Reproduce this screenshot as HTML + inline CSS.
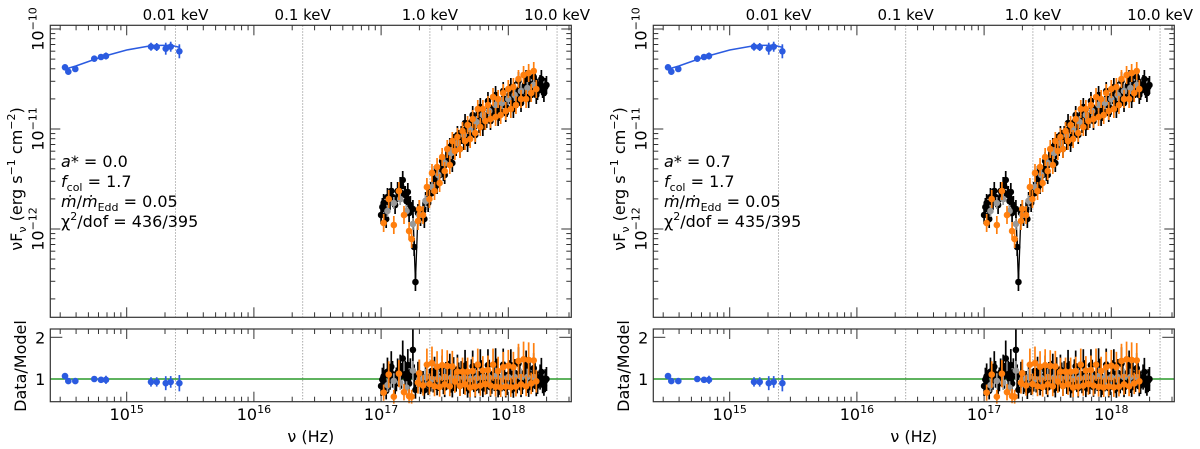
<!DOCTYPE html>
<html><head><meta charset="utf-8"><style>
html,body{margin:0;padding:0;background:#fff;}
svg{display:block;font-family:"DejaVu Sans","Liberation Sans",sans-serif;}
</style></head><body>
<svg id="chart" width="1200" height="449" viewBox="0 0 1200 449" xmlns="http://www.w3.org/2000/svg"></svg>
<script>
// ---- data (log10 nu [Hz], log10 nuFnu) ----
const optNu = [14.515,14.541,14.596,14.745,14.798,14.837,15.191,15.236,15.307,15.346,15.414];
const optF  = [-10.383,-10.427,-10.40,-10.297,-10.28,-10.27,-10.177,-10.18,-10.197,-10.177,-10.223];
const optErr = [0.015,0.015,0.015,0.015,0.02,0.035,0.04,0.04,0.06,0.05,0.07];
const optModelNu = [14.52,14.60,14.80,15.0,15.2,15.35,15.42];
const optModelF  = [-10.40,-10.37,-10.28,-10.21,-10.165,-10.163,-10.185];
const optRatio = [1.07,0.95,0.95,1.0,0.98,0.98,0.93,0.93,0.9,0.93,0.9];

const blkNu = [17.00,17.02,17.03,17.05,17.07,17.09,17.11,17.13,17.15,17.17,17.19,17.21,17.23,17.25,17.26,17.27,17.29,17.31,17.33,17.35,17.37,17.39,17.41,17.43,17.45,17.47,17.49,17.51,17.53,17.55,17.57,17.59,17.61,17.63,17.65,17.67,17.69,17.71,17.73,17.75,17.77,17.79,17.81,17.83,17.85,17.87,17.89,17.91,17.93,17.95,17.97,17.99,18.01,18.03,18.05,18.07,18.09,18.11,18.13,18.15,18.17,18.19,18.21,18.23,18.25,18.27,18.29];
const blkF = [-11.86,-11.74,-11.80,-11.68,-11.72,-11.68,-11.76,-11.62,-11.57,-11.51,-11.66,-11.63,-11.76,-11.80,-12.18,-12.53,-11.84,-11.88,-11.82,-11.72,-11.74,-11.62,-11.58,-11.50,-11.47,-11.40,-11.43,-11.30,-11.25,-11.28,-11.14,-11.18,-11.10,-11.06,-11.12,-11.00,-11.05,-10.93,-10.98,-10.90,-10.95,-10.84,-10.88,-10.90,-10.78,-10.86,-10.80,-10.72,-10.83,-10.76,-10.70,-10.79,-10.66,-10.73,-10.62,-10.70,-10.60,-10.68,-10.56,-10.64,-10.55,-10.60,-10.52,-10.62,-10.55,-10.60,-10.58];
const blk2Nu = [17.01,17.04,17.08,17.12,17.16,17.20,17.22,17.30,17.34,17.38,17.42,17.44,17.48,17.50,17.54,17.56,17.60,17.62,17.66,17.68,17.72,17.74,17.78,17.80,17.84,17.86,17.90,17.92,17.96,17.98,18.02,18.04,18.08,18.10,18.14,18.16,18.20,18.22,18.26,18.28,18.30];
const blk2F = [-11.78,-11.90,-11.62,-11.70,-11.64,-11.72,-11.84,-11.80,-11.90,-11.66,-11.46,-11.56,-11.32,-11.46,-11.18,-11.34,-11.06,-11.20,-10.94,-11.14,-10.86,-11.06,-10.78,-10.98,-10.72,-10.92,-10.66,-10.88,-10.62,-10.84,-10.58,-10.80,-10.52,-10.74,-10.50,-10.70,-10.48,-10.66,-10.50,-10.64,-10.56];
const orgNu = [17.02,17.06,17.10,17.14,17.18,17.22,17.24,17.29,17.30,17.33,17.36,17.38,17.40,17.42,17.44,17.46,17.48,17.50,17.52,17.54,17.56,17.58,17.60,17.62,17.64,17.66,17.68,17.70,17.72,17.74,17.76,17.78,17.80,17.82,17.84,17.86,17.88,17.90,17.92,17.94,17.96,17.98,18.00,18.02,18.04,18.06,18.08,18.10,18.12,18.14,18.16,18.18,18.20,18.22];
const orgF = [-11.94,-11.70,-11.96,-11.62,-11.86,-12.02,-12.10,-11.92,-11.80,-11.86,-11.58,-11.70,-11.44,-11.62,-11.38,-11.54,-11.28,-11.42,-11.20,-11.36,-11.12,-11.22,-11.08,-11.20,-11.02,-11.12,-10.96,-11.10,-10.90,-11.04,-10.80,-10.98,-10.80,-10.92,-10.76,-10.90,-10.68,-10.88,-10.70,-10.86,-10.64,-10.82,-10.60,-10.80,-10.58,-10.76,-10.50,-10.70,-10.46,-10.70,-10.44,-10.64,-10.42,-10.60];
const gryNu = [17.05,17.10,17.15,17.20,17.25,17.30,17.35,17.40,17.45,17.50,17.55,17.60,17.65,17.70,17.75,17.80,17.85,17.90,17.95,18.00,18.05,18.10,18.15,18.20];
const gryF = [-11.82,-11.74,-11.70,-11.82,-11.95,-11.86,-11.72,-11.58,-11.46,-11.34,-11.24,-11.14,-11.06,-11.00,-10.93,-10.86,-10.82,-10.76,-10.74,-10.70,-10.66,-10.62,-10.59,-10.56];
const xModelNu = [17.0,17.1,17.15,17.2,17.24,17.26,17.27,17.29,17.35,17.4,17.5,17.6,17.7,17.8,17.9,18.0,18.1,18.2,18.3];
const xModelF  = [-11.78,-11.72,-11.66,-11.72,-11.86,-12.2,-12.4,-11.88,-11.74,-11.58,-11.36,-11.15,-11.0,-10.88,-10.79,-10.72,-10.64,-10.58,-10.56];
const nuTicks = [15,16,17,18];
const fTicks = [-10,-11,-12];
const rTicks = [1,2];
const keVLabels = ["0.01 keV","0.1 keV","1.0 keV","10.0 keV"];
const keVValues = [0.01,0.1,1.0,10.0];
const panelSpin = ["0.0","0.7"];
const panelChi = ["436/395","435/395"];

const NS="http://www.w3.org/2000/svg";
const svg=document.getElementById('chart');
function mk(tag,attrs,parent){const e=document.createElementNS(NS,tag);for(const k in attrs)e.setAttribute(k,attrs[k]);(parent||svg).appendChild(e);return e;}
function interp(xs,ys,x){if(x<=xs[0])return ys[0];for(let i=1;i<xs.length;i++){if(x<=xs[i]){const t=(x-xs[i-1])/(xs[i]-xs[i-1]);return ys[i-1]+t*(ys[i]-ys[i-1]);}}return ys[ys.length-1];}

function panel(ox,idx){
  const L=50.3+ox,R=571.3+ox,T=25.3,B=317.3,RT=329,RB=401.7;
  const dec=127.2;
  const X=v=>126.7+ox+(v-15)*dec;
  const Y=v=>29-(v+10)*100;
  const RY=v=>379-(v-1)*41.7;
  const g=mk('g',{});
  
  
  keVValues.forEach((k,i)=>{
    const lx=X(Math.log10(k*2.418e17));
    const l1=mk('line',{x1:lx,x2:lx,y1:T,y2:B,stroke:'#aaa','stroke-width':1,'stroke-dasharray':'1.5,1.5'},g);
    
    
    const l2=mk('line',{x1:lx,x2:lx,y1:RT,y2:RB,stroke:'#aaa','stroke-width':1,'stroke-dasharray':'1.5,1.5'},g);
    
    
    const t=mk('text',{x:lx,y:20,'text-anchor':'middle','font-size':15},g);t.textContent=keVLabels[i];
    
    
  });
  const tk=(x1,y1,x2,y2)=>mk('line',{x1,y1,x2,y2,stroke:'#333','stroke-width':1},g);
  for(let d=14;d<=18;d++)for(let k=1;k<=9;k++){
    const v=d+Math.log10(k); if(v<14.4||v>18.495)continue;
    const x=X(v),len=k===1?10:5;
    tk(x,B,x,B-len);tk(x,T,x,T+len);tk(x,RB,x,RB-len);tk(x,RT,x,RT+len);
  }
  for(let d=-13;d<=-10;d++)for(let k=1;k<=9;k++){
    const v=d+Math.log10(k); if(v<-12.883||v>-9.963)continue;
    const y=Y(v),len=k===1?10:5;
    tk(L,y,L+len,y);tk(R,y,R-len,y);
  }
  rTicks.forEach(v=>{tk(L,RY(v),L+12,RY(v));tk(R,RY(v),R-12,RY(v));
    const t=mk('text',{x:L-5,y:RY(v)+6,'text-anchor':'end','font-size':16},g);t.textContent=v;
    
    });
  nuTicks.forEach(v=>{const t=mk('text',{x:X(v),y:420,'text-anchor':'middle','font-size':16},g);
    t.innerHTML='10<tspan dy="-7" font-size="11">'+v+'</tspan>';
    
    });
  fTicks.forEach(v=>{const y=Y(v);const t=mk('text',{x:0,y:0,'text-anchor':'middle','font-size':16,transform:`translate(${L-7},${y}) rotate(-90)`},g);
    t.innerHTML='10<tspan dy="-7" font-size="11">−'+(-v)+'</tspan>';
    
    });
  const yt=mk('text',{x:0,y:0,'text-anchor':'middle','font-size':16,transform:`translate(${22+ox},179) rotate(-90)`},g);
  yt.innerHTML='νF<tspan dy="4" font-size="11">ν</tspan><tspan dy="-4"> (erg s</tspan><tspan dy="-7" font-size="11">−1</tspan><tspan dy="7"> cm</tspan><tspan dy="-7" font-size="11">−2</tspan><tspan dy="7">)</tspan>';
  
  
  const rt=mk('text',{x:0,y:0,'text-anchor':'middle','font-size':16,transform:`translate(${26+ox},366) rotate(-90)`},g);
  rt.textContent='Data/Model';
  
  
  const xt=mk('text',{x:(L+R)/2,y:442,'text-anchor':'middle','font-size':16},g);xt.textContent='ν (Hz)';
  
  
  const ann=[`<tspan font-style="italic">a</tspan>* = ${panelSpin[idx]}`,
    `<tspan font-style="italic">f</tspan><tspan dy="4" font-size="11">col</tspan><tspan dy="-4"> = 1.7</tspan>`,
    `<tspan font-style="italic">ṁ</tspan>/<tspan font-style="italic">ṁ</tspan><tspan dy="4" font-size="11">Edd</tspan><tspan dy="-4"> = 0.05</tspan>`,
    `χ<tspan dy="-7" font-size="11">2</tspan><tspan dy="7">/dof = ${panelChi[idx]}</tspan>`];
  ann.forEach((h,i)=>{const t=mk('text',{x:61+ox,y:167+i*20,'font-size':16},g);t.innerHTML=h;
    
    });
  const gl=mk('line',{x1:L,x2:R,y1:RY(1),y2:RY(1),stroke:'#2a9a2a','stroke-width':1.5},g);
  
  
  const op=mk('polyline',{points:optModelNu.map((v,i)=>X(v)+','+Y(optModelF[i])).join(' '),fill:'none',stroke:'#2b5be0','stroke-width':1.5},g);
  
  
  const pt=(x,y,e1,e2,col,name)=>{
    const l=mk('line',{x1:x,x2:x,y1:e1,y2:e2,stroke:col,'stroke-width':1.7},g);
    
    
    const c=mk('circle',{cx:x,cy:y,r:3.3,fill:col},g);
    
    
  };
  optNu.forEach((v,i)=>{pt(X(v),Y(optF[i]),Y(optF[i]+optErr[i]),Y(optF[i]-optErr[i]),'#2b5be0','optical');
    const r=optRatio[i];pt(X(v),RY(r),RY(r+optErr[i]*2.8),RY(r-optErr[i]*2.8),'#2b5be0','optical-ratio');});
  const drawSet=(nus,fs,col,name,err)=>{nus.forEach((v,i)=>{const f=fs[i];
    pt(X(v),Y(f),Y(f+err),Y(f-err),col,name);
    const r=Math.pow(10,f-interp(xModelNu,xModelF,v));
    pt(X(v),RY(r),RY(r*(1+err*3.2)),RY(r*(1-err*3.2)),col,name+'-ratio');});};
  const bl=mk('polyline',{points:blkNu.map((v,i)=>X(v)+','+Y(blkF[i])).join(' '),fill:'none',stroke:'#000','stroke-width':1.3},g);
  
  
  drawSet(blkNu,blkF,'#000','xray-black',0.09);
  drawSet(blk2Nu,blk2F,'#000','xray-black-2',0.09);
  drawSet(gryNu,gryF,'#999','xray-gray',0.06);
  drawSet(orgNu,orgF,'#ff7f0e','xray-orange',0.09);
  const f1=mk('rect',{x:L,y:T,width:R-L,height:B-T,fill:'none',stroke:'#333','stroke-width':1.2},g);
  
  
  const f2=mk('rect',{x:L,y:RT,width:R-L,height:RB-RT,fill:'none',stroke:'#333','stroke-width':1.2},g);
  
  
}
panel(0,0);
panel(603,1);
</script>
</body></html>
